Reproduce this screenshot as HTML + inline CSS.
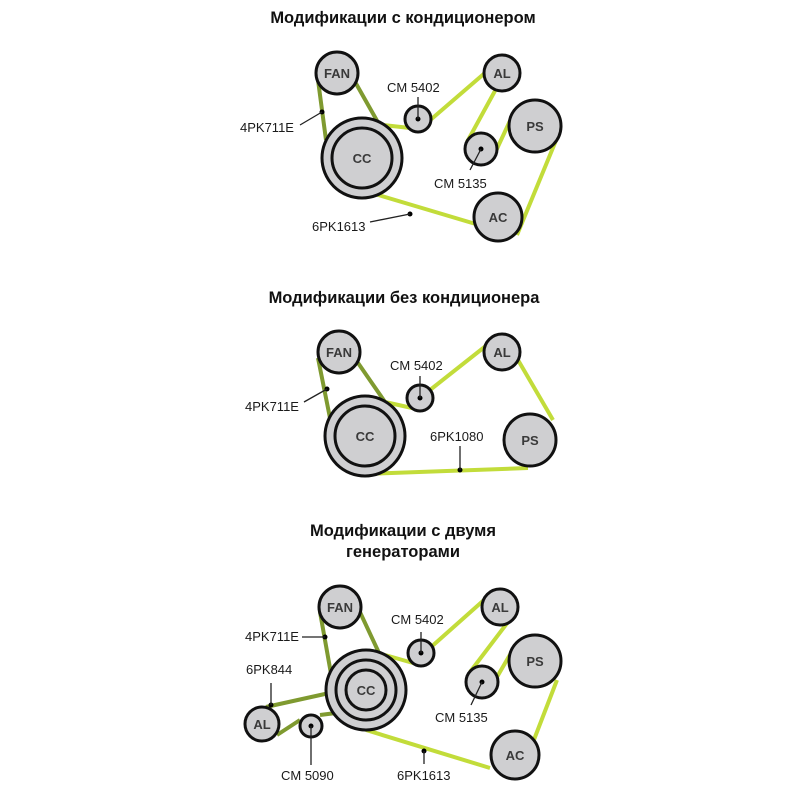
<!DOCTYPE html>
<html><head><meta charset="utf-8"><style>
body{margin:0;background:#fff;}
svg{display:block}
text{font-family:"Liberation Sans",sans-serif;fill:#222;}
.t{font-weight:bold;font-size:16.5px;text-anchor:middle;fill:#111}
.l{font-size:13px;fill:#1a1a1a}
.p{fill:#cfcfd1;stroke:#111;stroke-width:3}
.n{font-size:13px;font-weight:bold;text-anchor:middle;fill:#3a3a3a}
.y{stroke:#c2dc3a;stroke-width:4;fill:none;stroke-linejoin:round}
.o{stroke:#7f9a30;stroke-width:4;fill:none}
.k{stroke:#222;stroke-width:1.3}
</style></head><body>
<svg width="800" height="800" viewBox="0 0 800 800">
<!-- Diagram 1 -->
<text class="t" x="403" y="23">Модификации с кондиционером</text>
<path class="y" d="M383,125 L410,128 M428,122 L486,72 M496,89 L467,142 M495,153 L515,110 M557,138 L517,235 M479,225 L375,194"/>
<path class="o" d="M318,80 L326,140 M354,80 L380,126"/>
<circle class="p" cx="362" cy="158" r="40"/><circle class="p" cx="362" cy="158" r="30"/>
<circle class="p" cx="337" cy="73" r="21"/>
<circle class="p" cx="418" cy="119" r="13"/>
<circle class="p" cx="502" cy="73" r="18"/>
<circle class="p" cx="535" cy="126" r="26"/>
<circle class="p" cx="481" cy="149" r="16"/>
<circle class="p" cx="498" cy="217" r="24"/>
<text class="n" x="337" y="78">FAN</text><text class="n" x="362" y="163">CC</text>
<text class="n" x="502" y="78">AL</text><text class="n" x="535" y="131">PS</text><text class="n" x="498" y="222">AC</text>
<circle cx="418" cy="119" r="2.5"/><circle cx="481" cy="149" r="2.5"/>
<circle cx="322" cy="112" r="2.5"/><circle cx="410" cy="214" r="2.5"/>
<path class="k" d="M418,97 L418,119 M481,149 L470,170 M300,125 L322,112 M370,222 L410,214"/>
<text class="l" x="387" y="92">CM 5402</text>
<text class="l" x="434" y="188">CM 5135</text>
<text class="l" x="240" y="132">4PK711E</text>
<text class="l" x="312" y="231">6PK1613</text>
<!-- Diagram 2 -->
<text class="t" x="404" y="303">Модификации без кондиционера</text>
<path class="y" d="M385,402 L412,408 M430,390 L487,345 M518,360 L553,420 M365,474 L528,468"/>
<path class="o" d="M318,358 L330,418 M356,360 L385,402"/>
<circle class="p" cx="365" cy="436" r="40"/><circle class="p" cx="365" cy="436" r="30"/>
<circle class="p" cx="339" cy="352" r="21"/>
<circle class="p" cx="420" cy="398" r="13"/>
<circle class="p" cx="502" cy="352" r="18"/>
<circle class="p" cx="530" cy="440" r="26"/>
<text class="n" x="339" y="357">FAN</text><text class="n" x="365" y="441">CC</text>
<text class="n" x="502" y="357">AL</text><text class="n" x="530" y="445">PS</text>
<circle cx="420" cy="398" r="2.5"/><circle cx="327" cy="389" r="2.5"/><circle cx="460" cy="470" r="2.5"/>
<path class="k" d="M420,376 L420,398 M304,402 L327,389 M460,446 L460,470"/>
<text class="l" x="390" y="370">CM 5402</text>
<text class="l" x="245" y="411">4PK711E</text>
<text class="l" x="430" y="441">6PK1080</text>
<!-- Diagram 3 -->
<text class="t" x="403" y="536">Модификации с двумя</text>
<text class="t" x="403" y="557">генераторами</text>
<path class="y" d="M385,655 L413,663 M430,648 L484,600 M508,622 L470,672 M497,677 L515,646 M557,680 L530,750 M490,768 L366,730"/>
<path class="o" d="M320,612 L333,685 M359,610 L386,668"/>
<path class="o" d="M266,707 L352,688 M277,735 L300,720 M320,715 L360,710"/>
<circle class="p" cx="366" cy="690" r="40"/><circle class="p" cx="366" cy="690" r="30"/><circle class="p" cx="366" cy="690" r="20"/>
<circle class="p" cx="340" cy="607" r="21"/>
<circle class="p" cx="421" cy="653" r="13"/>
<circle class="p" cx="500" cy="607" r="18"/>
<circle class="p" cx="535" cy="661" r="26"/>
<circle class="p" cx="482" cy="682" r="16"/>
<circle class="p" cx="515" cy="755" r="24"/>
<circle class="p" cx="262" cy="724" r="17"/>
<circle class="p" cx="311" cy="726" r="11"/>
<text class="n" x="340" y="612">FAN</text><text class="n" x="366" y="695">CC</text>
<text class="n" x="500" y="612">AL</text><text class="n" x="535" y="666">PS</text><text class="n" x="515" y="760">AC</text>
<text class="n" x="262" y="729">AL</text>
<circle cx="421" cy="653" r="2.5"/><circle cx="482" cy="682" r="2.5"/><circle cx="311" cy="726" r="2.5"/>
<circle cx="325" cy="637" r="2.5"/><circle cx="271" cy="705" r="2.5"/><circle cx="424" cy="751" r="2.5"/>
<path class="k" d="M421,632 L421,653 M482,682 L471,705 M311,726 L311,765 M302,637 L325,637 M271,683 L271,705 M424,751 L424,764"/>
<text class="l" x="391" y="624">CM 5402</text>
<text class="l" x="435" y="722">CM 5135</text>
<text class="l" x="245" y="641">4PK711E</text>
<text class="l" x="246" y="674">6PK844</text>
<text class="l" x="281" y="780">CM 5090</text>
<text class="l" x="397" y="780">6PK1613</text>
</svg>
</body></html>
